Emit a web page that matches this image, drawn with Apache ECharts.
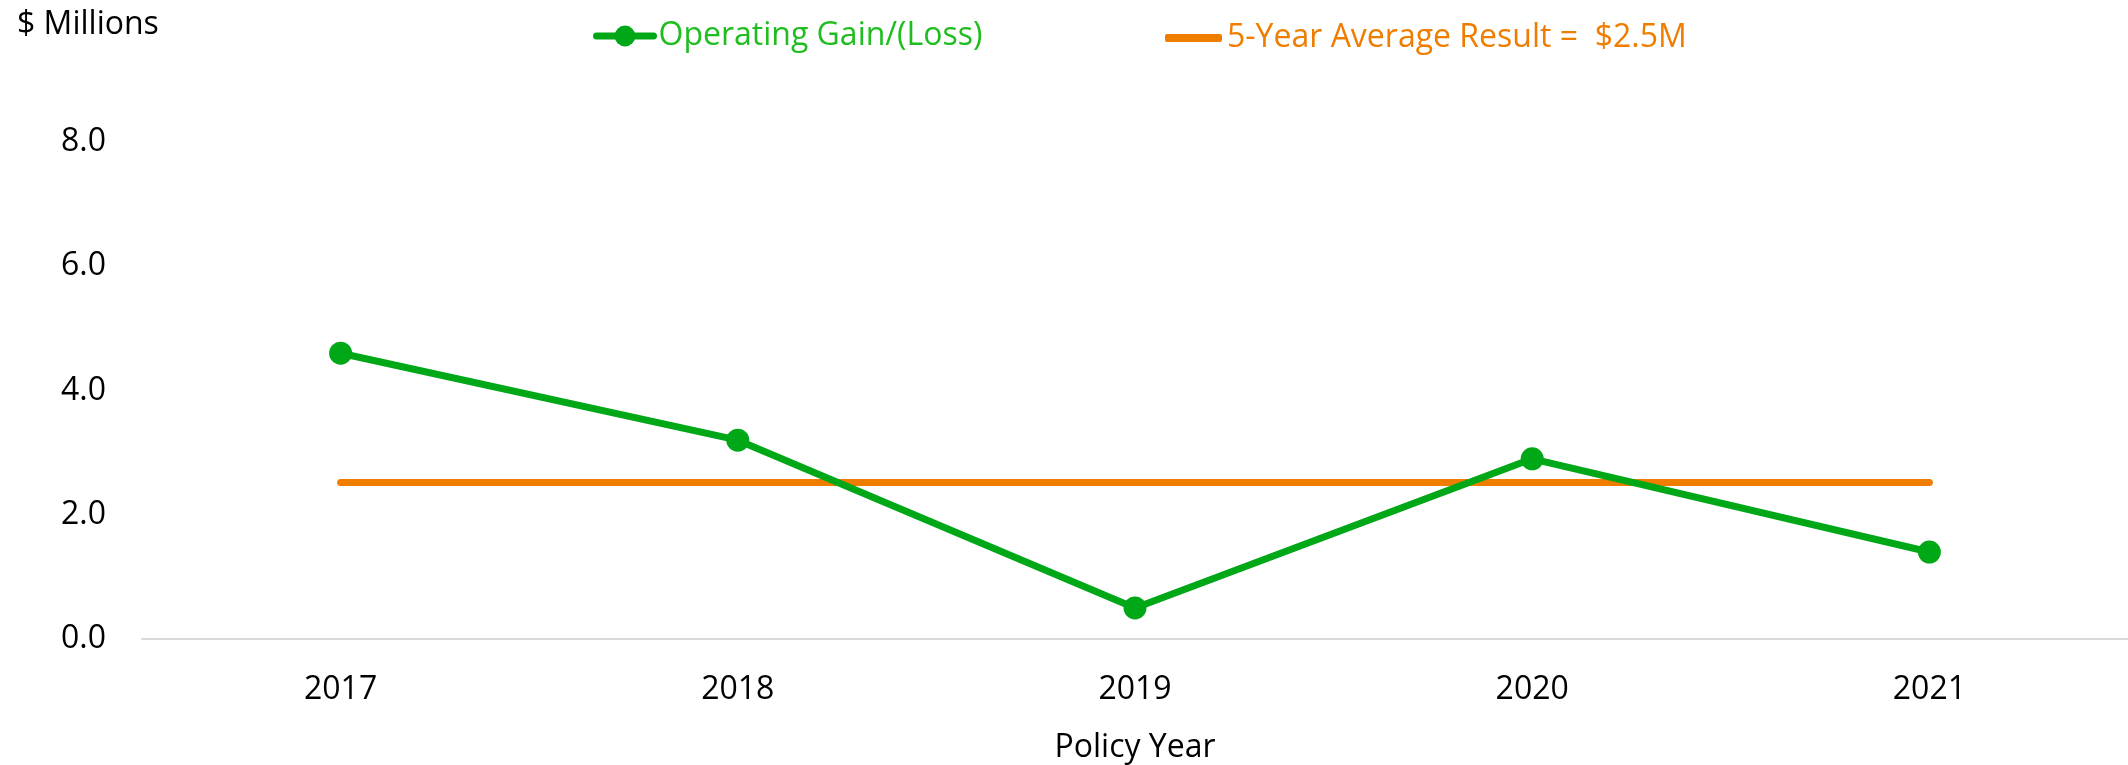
<!DOCTYPE html>
<html>
<head>
<meta charset="utf-8">
<title>Operating Gain/(Loss)</title>
<script src="https://cdn.jsdelivr.net/npm/echarts@6/dist/echarts.min.js"></script>
<style>
  html, body { margin: 0; padding: 0; background: #fff; }
  #chart { width: 2128px; height: 765px; }
</style>
</head>
<body>
<div id="chart"></div>
<script>
// 数据
const years = ['2017', '2018', '2019', '2020', '2021']
const operatingGain = [4.6, 3.2, 0.5, 2.9, 1.4]
const fiveYearAvg = [2.52, 2.52, 2.52, 2.52, 2.52]
const yTicks = { min: 0, max: 8, interval: 2 }

const GAIN_NAME = 'Operating Gain/(Loss)'
const AVG_NAME = '5-Year Average Result =  $2.5M'
const GREEN = '#00a818'
const ORANGE = '#ef7d00'
const FONT = '"Open Sans", "Liberation Sans", sans-serif'

const chart = echarts.init(document.getElementById('chart'))

chart.setOption({
  animation: false,
  backgroundColor: '#fff',
  title: {
    text: '$ Millions',
    left: 12,
    top: 4,
    textStyle: { fontFamily: FONT, fontSize: 32, fontWeight: 'normal', color: '#000' },
  },
  legend: [
    // 绿色折线图例：粗线 + 圆点
    {
      data: [{ name: GAIN_NAME, textStyle: { color: '#1fbd1f' } }],
      left: 588,
      top: 15,
      itemWidth: 57,
      itemHeight: 26,
      lineStyle: { width: 7, cap: 'round' },
      textStyle: { fontFamily: FONT, fontSize: 32 },
    },
    // 橙色平均线图例：只有粗线
    {
      data: [{ name: AVG_NAME, icon: 'roundRect', textStyle: { color: ORANGE } }],
      left: 1160,
      top: 17,
      itemWidth: 57,
      itemHeight: 8,
      textStyle: { fontFamily: FONT, fontSize: 32 },
    },
  ],
  grid: { left: 142, right: 0, top: 142, bottom: 126, outerBoundsMode: 'none', containLabel: false },
  xAxis: {
    type: 'category',
    data: years,
    boundaryGap: true,
    name: 'Policy Year',
    nameLocation: 'middle',
    nameGap: 93,
    nameTextStyle: { fontFamily: FONT, fontSize: 32, color: '#000' },
    axisLine: { lineStyle: { color: '#d9d9d9', width: 2 } },
    axisTick: { show: false },
    axisLabel: { fontFamily: FONT, fontSize: 32, color: '#000', margin: 35 },
    splitLine: { show: false },
  },
  yAxis: {
    type: 'value',
    min: yTicks.min,
    max: yTicks.max,
    interval: yTicks.interval,
    axisLine: { show: false },
    axisTick: { show: false },
    splitLine: { show: false },
    axisLabel: {
      fontFamily: FONT,
      fontSize: 32,
      color: '#000',
      margin: 36,
      formatter: (v) => v.toFixed(1),
    },
  },
  series: [
    {
      name: AVG_NAME,
      type: 'line',
      data: fiveYearAvg,
      symbol: 'none',
      z: 2,
      lineStyle: { color: ORANGE, width: 7, cap: 'round' },
      itemStyle: { color: ORANGE },
    },
    {
      name: GAIN_NAME,
      type: 'line',
      data: operatingGain,
      symbol: 'circle',
      symbolSize: 23,
      z: 3,
      lineStyle: { color: GREEN, width: 7 },
      itemStyle: { color: GREEN },
    },
  ],
})
</script>
</body>
</html>
